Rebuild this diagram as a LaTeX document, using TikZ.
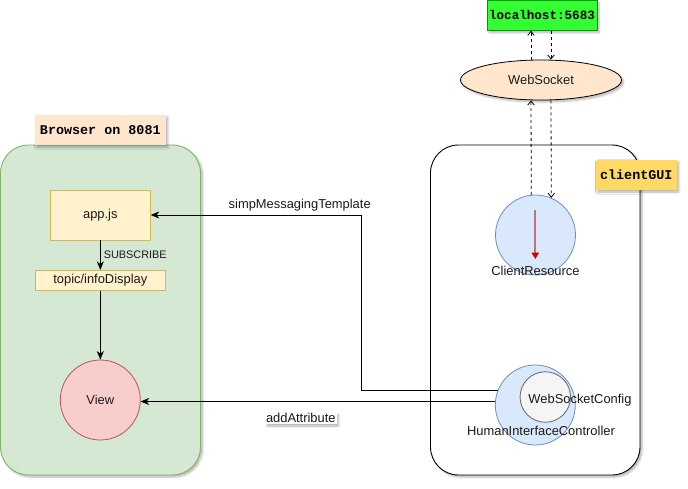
\documentclass[tikz,border=0pt]{standalone}
\usepackage{fontspec}
\setmainfont{Liberation Sans}
\newfontfamily\codefont{Liberation Mono}
\usetikzlibrary{arrows.meta,shapes.geometric,shadows.blur}

\definecolor{hostgreen}{HTML}{33FF33}
\definecolor{peach}{HTML}{FFE6CC}
\definecolor{gold}{HTML}{FFD966}
\definecolor{boxgreen}{HTML}{D5E8D4}
\definecolor{boxgreenline}{HTML}{82B366}
\definecolor{notefill}{HTML}{FFF2CC}
\definecolor{noteline}{HTML}{D6B656}
\definecolor{bluefill}{HTML}{DAE8FC}
\definecolor{blueline}{HTML}{6C8EBF}
\definecolor{redfill}{HTML}{F8CECC}
\definecolor{redline}{HTML}{B85450}
\definecolor{greyfill}{HTML}{F5F5F5}
\definecolor{greyline}{HTML}{666666}
\definecolor{txt}{HTML}{1A1A1A}
\definecolor{flowline}{HTML}{C8707A}
\definecolor{flowtip}{HTML}{CC0000}

\tikzset{
  softshadow/.style={blur shadow={shadow xshift=2pt,shadow yshift=-2pt,shadow blur steps=6,shadow opacity=30}},
  lbl/.style={font=\fontsize{12.9}{14}\selectfont,text=txt,inner sep=0pt},
  codelbl/.style={font=\codefont\bfseries\fontsize{13.4}{15}\selectfont,text=black,inner sep=0pt},
  container/.style={rounded corners=28pt,line width=0.9pt,softshadow},
  noteblock/.style={draw=noteline,fill=notefill,line width=0.8pt,inner sep=0pt},
  disc/.style={circle,inner sep=0pt,minimum size=80pt,line width=0.8pt},
  arr/.style={draw=black,line width=0.9pt,-{Stealth[length=8.5pt,width=7pt,inset=2.5pt]}},
  dasharr/.style={draw=black,line width=0.8pt,dash pattern=on 3pt off 3pt,-{Straight Barb[length=4pt,width=6.5pt]}},
}

\begin{document}
\begin{tikzpicture}[x=1pt,y=-1pt]
\useasboundingbox (0,0) rectangle (688,488);

% containers
\draw[container,draw=boxgreenline,fill=boxgreen] (0.5,145) rectangle (200.5,475);
\draw[container,draw=black,fill=white] (430.5,145) rectangle (640,475);

% container titles
\node[codelbl,fill=peach,minimum width=131pt,minimum height=30pt,softshadow] (browser) at (100.3,130) {Browser on 8081};
\node[codelbl,fill=gold,minimum width=81pt,minimum height=30pt,softshadow] (gui) at (636.3,175) {clientGUI};

% external endpoint and socket
\node[codelbl,font=\codefont\bfseries\fontsize{12.6}{15}\selectfont,fill=hostgreen,draw=green!60!black,line width=0.4pt,minimum width=110pt,minimum height=30pt,softshadow] (host) at (542,15.5) {localhost:5683};
\node[ellipse,draw=black,fill=peach,line width=0.8pt,minimum width=161pt,minimum height=40pt,inner sep=0pt,softshadow,lbl] (ws) at (541,80) {WebSocket};

% browser side
\node[noteblock,minimum width=100pt,minimum height=50pt,lbl] (app) at (100.3,215) {app.js};
\node[noteblock,minimum width=130pt,minimum height=20pt,lbl] (topic) at (100.3,280.3) {topic/infoDisplay};
\node[disc,draw=redline,fill=redfill,lbl] (view) at (100.3,400) {View};

% server side
\node[disc,draw=blueline,fill=bluefill] (cr) at (535.5,235) {};
\node[lbl] (crtext) at (535.5,270.5) {ClientResource};
\node[disc,draw=blueline,fill=bluefill] (hic) at (535.3,405) {};
\node[circle,draw=greyline,fill=greyfill,line width=0.8pt,minimum size=50.5pt,inner sep=0pt] (wsc) at (545.3,397) {};
\node[lbl] (wsctext) at (580,400.5) {WebSocketConfig};
\node[lbl] (hictext) at (541,430.5) {HumanInterfaceController};

% flow inside ClientResource
\coordinate (crtop) at (535.3,210);
\coordinate (crbot) at (535.3,259);
\draw[draw=flowline,line width=2pt,-{Triangle[length=6.5pt,width=7.5pt,color=flowtip]}] (crtop) -- (crbot);

% dashed socket links
\coordinate (L) at (531,0);
\coordinate (R) at (551,0);
\draw[dasharr] (ws.north -| L) -- (host.south -| L);
\draw[dasharr] (host.south -| R) -- (ws.north -| R);
\draw[dasharr] (cr.96.5) -- (ws.south -| L);
\draw[dasharr] (ws.south -| R) -- (cr.67.2);

% browser flow
\draw[arr] (app.south) -- (topic.north) node[midway,right=3pt,lbl,font=\fontsize{10.9}{12}\selectfont] (sub) {SUBSCRIBE};
\draw[arr] (topic.south) -- (view.north);

% controller to browser
\coordinate (bend) at (361,300);
\draw[arr] (hic.159.5) -- (hic.159.5 -| bend) -- (bend |- app.east) -- (app.east);
\node[lbl] (smt) at (299.7,205.5) {simpMessagingTemplate};
\draw[arr] (hic.175.7) -- (view.-3 |- hic.175.7);
\node[lbl,fill=white,inner sep=1pt,softshadow] (attr) at (300.8,418.3) {addAttribute};
\end{tikzpicture}
\end{document}
